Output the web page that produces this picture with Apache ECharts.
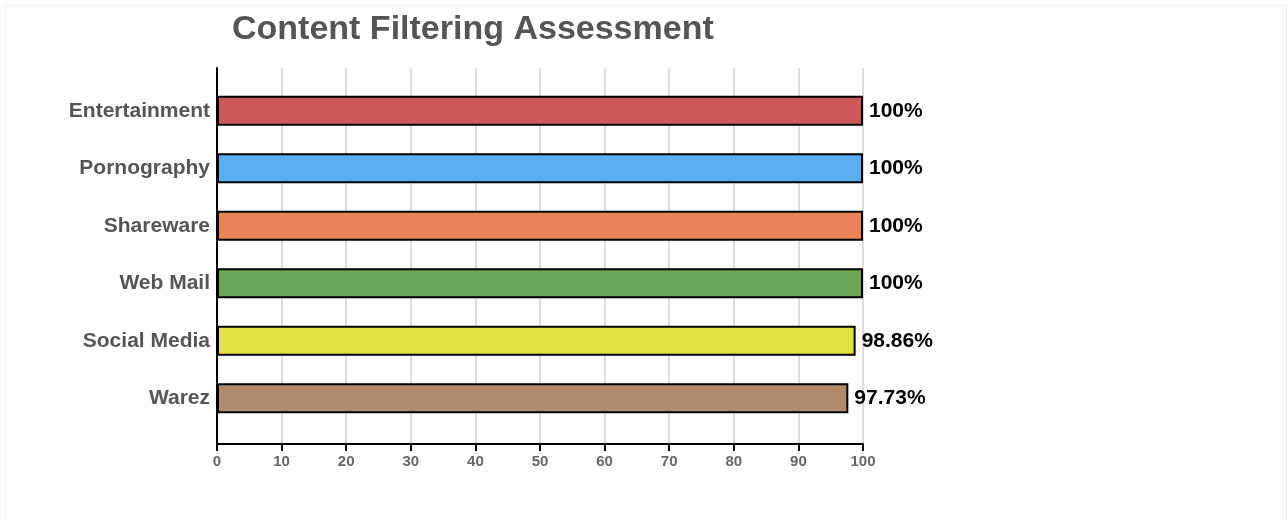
<!DOCTYPE html>
<html>
<head>
<meta charset="utf-8">
<script src="https://cdn.jsdelivr.net/npm/echarts@6/dist/echarts.min.js"></script>
<style>
  body { margin: 0; background: #fff; }
  #frame { position: absolute; left: 5px; top: 5px; width: 1282px; height: 515px; border-top: 1px solid #f2f2f2; border-left: 1px solid #f6f6f6; border-right: 1px solid #eee; box-sizing: border-box; }
  #chart { width: 1288px; height: 520px; }
</style>
</head>
<body>
<div id="frame"></div>
<div id="chart"></div>
<script>
const categories = ['Entertainment', 'Pornography', 'Shareware', 'Web Mail', 'Social Media', 'Warez']
const values = [100, 100, 100, 100, 98.86, 97.73]
const barColors = ['#cd5a5a', '#5daef0', '#e88258', '#6aa655', '#e3e340', '#b08a6a']
const xTicks = [0, 10, 20, 30, 40, 50, 60, 70, 80, 90, 100]

const chart = echarts.init(document.getElementById('chart'))

const option = {
  title: {
    text: 'Content Filtering Assessment',
    left: 227,
    top: 8,
    textStyle: { fontFamily: 'Liberation Sans', fontSize: 34, fontWeight: 'bold', color: '#555' }
  },
  grid: [
    // frame: axis lines and gridlines
    { left: 217, right: 425, top: 68, bottom: 76 },
    // bars
    { left: 217, right: 425, top: 82, bottom: 93 }
  ],
  xAxis: [
    {
      gridIndex: 0,
      type: 'value',
      min: xTicks[0],
      max: xTicks[xTicks.length - 1],
      interval: 10,
      axisLine: { show: true, lineStyle: { color: '#000', width: 2 } },
      axisTick: { show: true, length: 7, lineStyle: { color: '#000', width: 2 } },
      axisLabel: { color: '#666', fontFamily: 'Liberation Sans', fontWeight: 'bold', fontSize: 15, margin: 10 },
      splitLine: { show: true, lineStyle: { color: '#dcdcdc', width: 2 } }
    },
    {
      gridIndex: 1,
      type: 'value',
      min: 0,
      max: 100,
      show: false
    }
  ],
  yAxis: [
    {
      gridIndex: 0,
      type: 'value',
      axisLine: { show: true, lineStyle: { color: '#000', width: 2 } },
      axisTick: { show: false },
      axisLabel: { show: false },
      splitLine: { show: false }
    },
    {
      gridIndex: 1,
      type: 'category',
      inverse: true,
      data: categories,
      axisLine: { show: false },
      axisTick: { show: false },
      axisLabel: { color: '#555', fontFamily: 'Liberation Sans', fontWeight: 'bold', fontSize: 21, margin: 7 }
    }
  ],
  series: [
    {
      type: 'bar',
      xAxisIndex: 1,
      yAxisIndex: 1,
      barWidth: 30,
      data: values.map((v, i) => ({
        value: v,
        itemStyle: { color: barColors[i] }
      })),
      itemStyle: { borderColor: '#000', borderWidth: 2 },
      label: {
        show: true,
        position: 'right',
        distance: 6,
        formatter: p => p.value + '%',
        color: '#000',
        fontFamily: 'Liberation Sans',
        fontWeight: 'bold',
        fontSize: 21
      }
    }
  ]
}

chart.setOption(option)
</script>
</body>
</html>
